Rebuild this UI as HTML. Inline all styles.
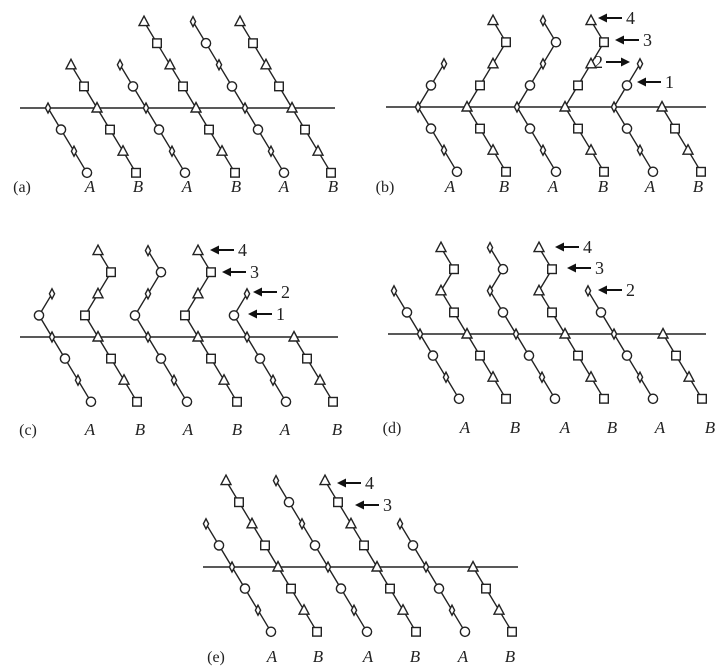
<!DOCTYPE html>
<html><head><meta charset="utf-8"><style>
body{margin:0;background:#fff;}
svg{display:block;font-family:"Liberation Serif",serif;}
</style></head><body>
<svg id="fig" width="723" height="672" viewBox="0 0 723 672"></svg>
<script>
// panel data
const panelNames = ["(a)","(b)","(c)","(d)","(e)"];
const panelLineY = [108,107,337,334,567];
const panelLineX = [[20,335],[386,706],[20,338],[388,706],[203,518]];
const panelCross = [[48,97,146,196,245,292],[418,467,517,565,614,662],[52,98,148,198,247,294],[420,467,516,565,614,663],[232,278,328,377,426,473]];
// direction of each step above the line (L = up-left, R = up-right)
const panelDirs = [
  ["","LL","LL","LLLL","LLLL","LLLL"],
  ["RR","RRRL","RRRL","RRRL","RR",""],
  ["LR","LRRL","LRRL","LRRL","LR",""],
  ["LL","LLRL","LLRL","LLRL","LL",""],
  ["LL","LLLL","LLLL","LLLL","LL",""]
];
const panelLabelY = [192,192,435,433,662];
const panelTagX = [22,385,28,392,216];
const panelLabelX = [[90,138,187,236,284,333],[450,504,553,603,650,698],[90,140,188,237,285,337],[465,515,565,612,660,710],[272,318,368,415,463,510]];
const catLabels = ["A","B","A","B","A","B"];
// arrows: [panel, text, tipX, y, pointsRight]
const arrows = [
  [1,"4",598,18,false],[1,"3",615,40,false],[1,"2",630,62,true],[1,"1",637,82,false],
  [2,"4",210,250,false],[2,"3",222,272,false],[2,"2",253,292,false],[2,"1",248,314,false],
  [3,"4",555,247,false],[3,"3",567,268,false],[3,"2",598,290,false],
  [4,"4",337,483,false],[4,"3",355,505,false]
];
const DY = 21.6, DX = 13, BELOW = 3;
const svg = document.getElementById('fig');
const NS = "http://www.w3.org/2000/svg";
function mk(tag, attrs, parent){const e=document.createElementNS(NS,tag);for(const k in attrs)e.setAttribute(k,attrs[k]);(parent||svg).appendChild(e);return e;}
function marker(g, type, x, y){
  let e;
  if(type==='diamond') e=mk('polygon',{points:`${x},${y-5} ${x+2.6},${y} ${x},${y+5} ${x-2.6},${y}`},g);
  else if(type==='circle') e=mk('circle',{cx:x,cy:y,r:4.6},g);
  else if(type==='square') e=mk('rect',{x:x-4.3,y:y-4.3,width:8.6,height:8.6},g);
  else e=mk('polygon',{points:`${x},${y-5.5} ${x+5},${y+4} ${x-5},${y+4}`},g);
  e.setAttribute('fill','#fff');e.setAttribute('stroke','#222');e.setAttribute('stroke-width','1.4');
  
  
}
panelNames.forEach((pn,p)=>{
  const g = mk('g',{});
  
  
  const ly = panelLineY[p];
  const ln = mk('line',{x1:panelLineX[p][0],y1:ly,x2:panelLineX[p][1],y2:ly,stroke:'#222','stroke-width':1.5},g);
  
  
  panelCross[p].forEach((cx,c)=>{
    const isA = c%2===0;
    const pts=[];
    const dirs = panelDirs[p][c];
    let x=cx;
    const up=[];
    for(let k=0;k<dirs.length;k++){x += dirs[k]==='L'?-DX:DX; up.push([x, ly-(k+1)*DY, k+1]);}
    up.reverse().forEach(q=>pts.push(q));
    pts.push([cx,ly,0]);
    for(let k=1;k<=BELOW;k++) pts.push([cx+k*DX, ly+k*DY, k]);
    const cg = mk('g',{},g);
    
    
    const pl = mk('polyline',{points:pts.map(q=>q[0]+','+q[1]).join(' '),fill:'none',stroke:'#222','stroke-width':1.4},cg);
    
    
    pts.forEach(q=>{
      const even = q[2]%2===0;
      const t = isA ? (even?'diamond':'circle') : (even?'triangle':'square');
      marker(cg,t,q[0],q[1]);
    });
  });
  const tag = mk('text',{x:panelTagX[p],y:panelLabelY[p],'font-size':16,'text-anchor':'middle',fill:'#222'},g);
  tag.textContent = pn;
  
  
  panelLabelX[p].forEach((lx,i)=>{
    const t = mk('text',{x:lx,y:panelLabelY[p],'font-size':17,'font-style':'italic','text-anchor':'middle',fill:'#222'},g);
    t.textContent = catLabels[i];
    
    
  });
});
arrows.forEach(a=>{
  const [p,txt,tx,y,right]=a;
  const g = mk('g',{});
  
  
  if(!right){
    mk('line',{x1:tx+4,y1:y,x2:tx+24,y2:y,stroke:'#111','stroke-width':2},g);
    mk('polygon',{points:`${tx},${y} ${tx+9},${y-4.5} ${tx+9},${y+4.5}`,fill:'#111'},g);
    const t=mk('text',{x:tx+28,y:y+6,'font-size':18,fill:'#222'},g);t.textContent=txt;
  } else {
    mk('line',{x1:tx-24,y1:y,x2:tx-4,y2:y,stroke:'#111','stroke-width':2},g);
    mk('polygon',{points:`${tx},${y} ${tx-9},${y-4.5} ${tx-9},${y+4.5}`,fill:'#111'},g);
    const t=mk('text',{x:tx-36,y:y+6,'font-size':18,fill:'#222'},g);t.textContent=txt;
  }
});
</script>
</body></html>
